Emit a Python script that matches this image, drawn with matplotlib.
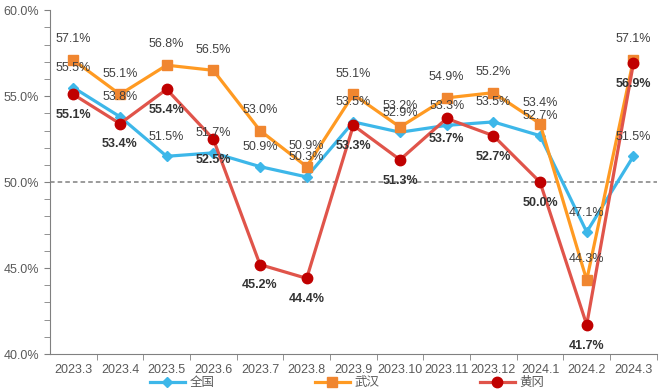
import matplotlib.pyplot as plt
from matplotlib.ticker import MultipleLocator, FuncFormatter

plt.rcParams['font.family'] = ['Liberation Sans', 'Noto Sans CJK SC', 'DejaVu Sans']

# 月份
months = ['2023.3', '2023.4', '2023.5', '2023.6', '2023.7', '2023.8', '2023.9',
          '2023.10', '2023.11', '2023.12', '2024.1', '2024.2', '2024.3']

# PMI 数据 (%)
quanguo = [55.5, 53.8, 51.5, 51.7, 50.9, 50.3, 53.5, 52.9, 53.3, 53.5, 52.7, 47.1, 51.5]
wuhan = [57.1, 55.1, 56.8, 56.5, 53.0, 50.9, 55.1, 53.2, 54.9, 55.2, 53.4, 44.3, 57.1]
huanggang = [55.1, 53.4, 55.4, 52.5, 45.2, 44.4, 53.3, 51.3, 53.7, 52.7, 50.0, 41.7, 56.9]

fig, ax = plt.subplots(figsize=(6.62, 3.91), dpi=100)
fig.subplots_adjust(left=0.0755, right=0.992, top=0.974, bottom=0.0946)

x = list(range(len(months)))
ax.axhline(50, color='#808080', linestyle=(0, (3, 2)), linewidth=1.1, zorder=1)

ax.plot(x, quanguo, color='#3DB7E9', linewidth=2.3, marker='D', markersize=5,
        markerfacecolor='#3DB7E9', markeredgecolor='#3DB7E9', label='全国', zorder=3)
ax.plot(x, wuhan, color='#FF9A22', linewidth=2.3, marker='s', markersize=7,
        markerfacecolor='#F08630', markeredgecolor='#F08630', label='武汉', zorder=4)
ax.plot(x, huanggang, color='#E0544A', linewidth=2.3, marker='o', markersize=7.5,
        markerfacecolor='#C00000', markeredgecolor='#C00000', label='黄冈', zorder=5)

# 数据标签
for i in x:
    ax.annotate(f'{quanguo[i]:.1f}%', (i, quanguo[i]), xytext=(0, 14),
                textcoords='offset points', ha='center', va='center',
                fontsize=9, color='#404040', zorder=6)
    ax.annotate(f'{wuhan[i]:.1f}%', (i, wuhan[i]), xytext=(0, 15),
                textcoords='offset points', ha='center', va='center',
                fontsize=9, color='#404040', zorder=6)
    ax.annotate(f'{huanggang[i]:.1f}%', (i, huanggang[i]), xytext=(0, -15),
                textcoords='offset points', ha='center', va='center',
                fontsize=9, color='#333333', fontweight='bold', zorder=6)

ax.set_xlim(-0.5, len(months) - 0.5)
ax.set_ylim(40, 60)
ax.set_xticks(x)
ax.set_xticklabels(months)
ax.set_xticks([i + 0.5 for i in x], minor=True)
ax.tick_params(axis='x', which='major', length=0, pad=7, labelsize=9, labelcolor='#595959')
ax.tick_params(axis='x', which='minor', length=4, color='#808080')

ax.yaxis.set_major_locator(MultipleLocator(5))
ax.yaxis.set_minor_locator(MultipleLocator(1))
ax.yaxis.set_major_formatter(FuncFormatter(lambda v, p: f'{v:.1f}%'))
ax.tick_params(axis='y', which='both', length=4, color='#808080', labelsize=9,
               labelcolor='#595959', pad=4)

for s in ['top', 'right']:
    ax.spines[s].set_visible(False)
for s in ['left', 'bottom']:
    ax.spines[s].set_color('#808080')

ax.legend(loc='lower center', bbox_to_anchor=(0.49, -0.128), ncol=3, frameon=False,
          fontsize=9, handlelength=2.8, columnspacing=8.0, labelcolor='#595959',
          handletextpad=0.4, borderpad=0.2)

plt.savefig('out.png', dpi=100)
